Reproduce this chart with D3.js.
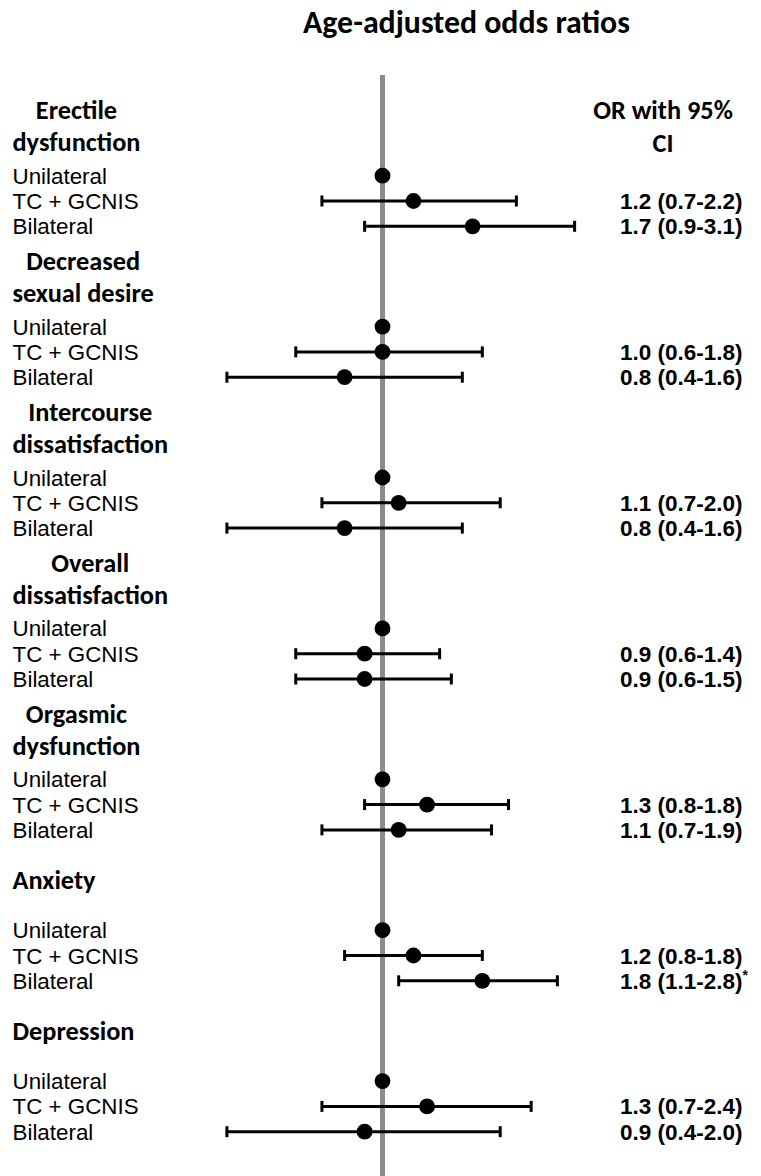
<!DOCTYPE html>
<html><head><meta charset="utf-8">
<script src="https://cdn.jsdelivr.net/npm/d3@7"></script>
<style>html,body{margin:0;padding:0;background:#fff;} svg{display:block;font-family:Carlito,Lato,"Open Sans",sans-serif;} .tight{font-family:"Liberation Sans",Arial,sans-serif;}</style>
</head><body><svg id="chart" width="761" height="1176"></svg>
<script>
// ---- data ----
const title = "Age-adjusted odds ratios";
const outcomeLines = [["Erectile","dysfunction"],["Decreased","sexual desire"],["Intercourse","dissatisfaction"],["Overall","dissatisfaction"],["Orgasmic","dysfunction"],["Anxiety"],["Depression"]];
const groups = ["Unilateral","TC + GCNIS","Bilateral"];
const refOR = [1,1,1,1,1,1,1];
const tcOR  = [1.2,1.0,1.1,0.9,1.3,1.2,1.3];
const tcLo  = [0.7,0.6,0.7,0.6,0.9,0.8,0.7];
const tcHi  = [2.2,1.8,2.0,1.4,2.1,1.8,2.4];
const bilOR = [1.7,0.8,0.8,0.9,1.1,1.8,0.9];
const bilLo = [0.9,0.4,0.4,0.6,0.7,1.1,0.4];
const bilHi = [3.1,1.6,1.6,1.5,1.9,2.8,2.0];
const tcLabel  = ["1.2 (0.7-2.2)","1.0 (0.6-1.8)","1.1 (0.7-2.0)","0.9 (0.6-1.4)","1.3 (0.8-1.8)","1.2 (0.8-1.8)","1.3 (0.7-2.4)"];
const bilLabel = ["1.7 (0.9-3.1)","0.8 (0.4-1.6)","0.8 (0.4-1.6)","0.9 (0.6-1.5)","1.1 (0.7-1.9)","1.8 (1.1-2.8)","0.9 (0.4-2.0)"];
const bilSignif = [false,false,false,false,false,true,false];
const colHeader = ["OR with 95%","CI"];

// ---- layout ----
const svg = d3.select("#chart");
const x = d3.scaleLog().domain([0.1,10]).range([382.5-391, 382.5+391]);
const yGroup = d3.scaleLinear().domain([0,6]).range([175.7, 175.7+6*150.9]);
const yRow = d3.scalePoint().domain(groups).range([0, 50.6]);

function fit(text, weight, target, cls){
  const t = svg.append("text").attr("class",cls||null).attr("font-size",100).attr("font-weight",weight).text(text);
  const w = t.node().getComputedTextLength(); t.remove();
  return 100*target/w;
}
const fsTitle = fit(title,"bold",327);
const fsHead = fit("dysfunction","bold",128);
const fsRow = Math.min(22.5, fit("Unilateral","normal",94.5,"tight"));
const fsVal = Math.min(22.5, fit("1.2 (0.7-2.2)","bold",131.7,"tight"));

// title
svg.append("text").attr("x",466.5).attr("y",33).attr("text-anchor","middle")
  .attr("font-size",fsTitle).attr("font-weight","bold").attr("fill","#000").text(title);

// reference line
svg.append("line").attr("x1",x(1)).attr("x2",x(1)).attr("y1",75).attr("y2",1176)
  .attr("stroke","#8c8c8c").attr("stroke-width",5);

// column header
colHeader.forEach((s,i)=>{
  svg.append("text").attr("x",663).attr("y",i===0?118.5:151.5).attr("text-anchor","middle")
    .attr("font-size",fsHead).attr("font-weight","bold").text(s);
});

outcomeLines.forEach((lines,g)=>{
  const base = yGroup(g);
  // header
  if(lines.length===2){
    const gg = svg.append("g");
    const ts = lines.map((s,i)=>gg.append("text").attr("y",base+(i===0?-56.4:-24.7))
      .attr("font-size",fsHead).attr("font-weight","bold").attr("text-anchor","middle").text(s));
    const mw = d3.max(ts, t=>t.node().getComputedTextLength());
    ts.forEach(t=>t.attr("x",12.5+mw/2));
  } else {
    svg.append("text").attr("x",12.5).attr("y",base-41).attr("font-size",fsHead)
      .attr("font-weight","bold").text(lines[0]);
  }
  // row labels
  groups.forEach(gr=>{
    svg.append("text").attr("class","tight").attr("x",12.5).attr("y",base+yRow(gr)+8).attr("font-size",fsRow).text(gr);
  });
  const rows = [
    {gr:groups[1], or:tcOR[g], lo:tcLo[g], hi:tcHi[g], lab:tcLabel[g], sig:false},
    {gr:groups[2], or:bilOR[g], lo:bilLo[g], hi:bilHi[g], lab:bilLabel[g], sig:bilSignif[g]}
  ];
  rows.forEach(r=>{
    const y = base+yRow(r.gr);
    svg.append("line").attr("x1",x(r.lo)).attr("x2",x(r.hi)).attr("y1",y).attr("y2",y)
      .attr("stroke","#000").attr("stroke-width",3);
    [r.lo,r.hi].forEach(v=>svg.append("line").attr("x1",x(v)).attr("x2",x(v))
      .attr("y1",y-5.5).attr("y2",y+5.5).attr("stroke","#000").attr("stroke-width",3));
    svg.append("circle").attr("cx",x(r.or)).attr("cy",y).attr("r",7.9).attr("fill","#000");
    const t = svg.append("text").attr("class","tight").attr("x",620).attr("y",y+8).attr("font-size",fsVal)
      .attr("font-weight","bold").text(r.lab);
    if(r.sig){ t.append("tspan").attr("dy",-9).attr("font-size",14).text("*"); }
  });
  // reference (unilateral) point
  svg.append("circle").attr("cx",x(refOR[g])).attr("cy",base+yRow(groups[0])).attr("r",7.9).attr("fill","#000");
});
</script></body></html>
